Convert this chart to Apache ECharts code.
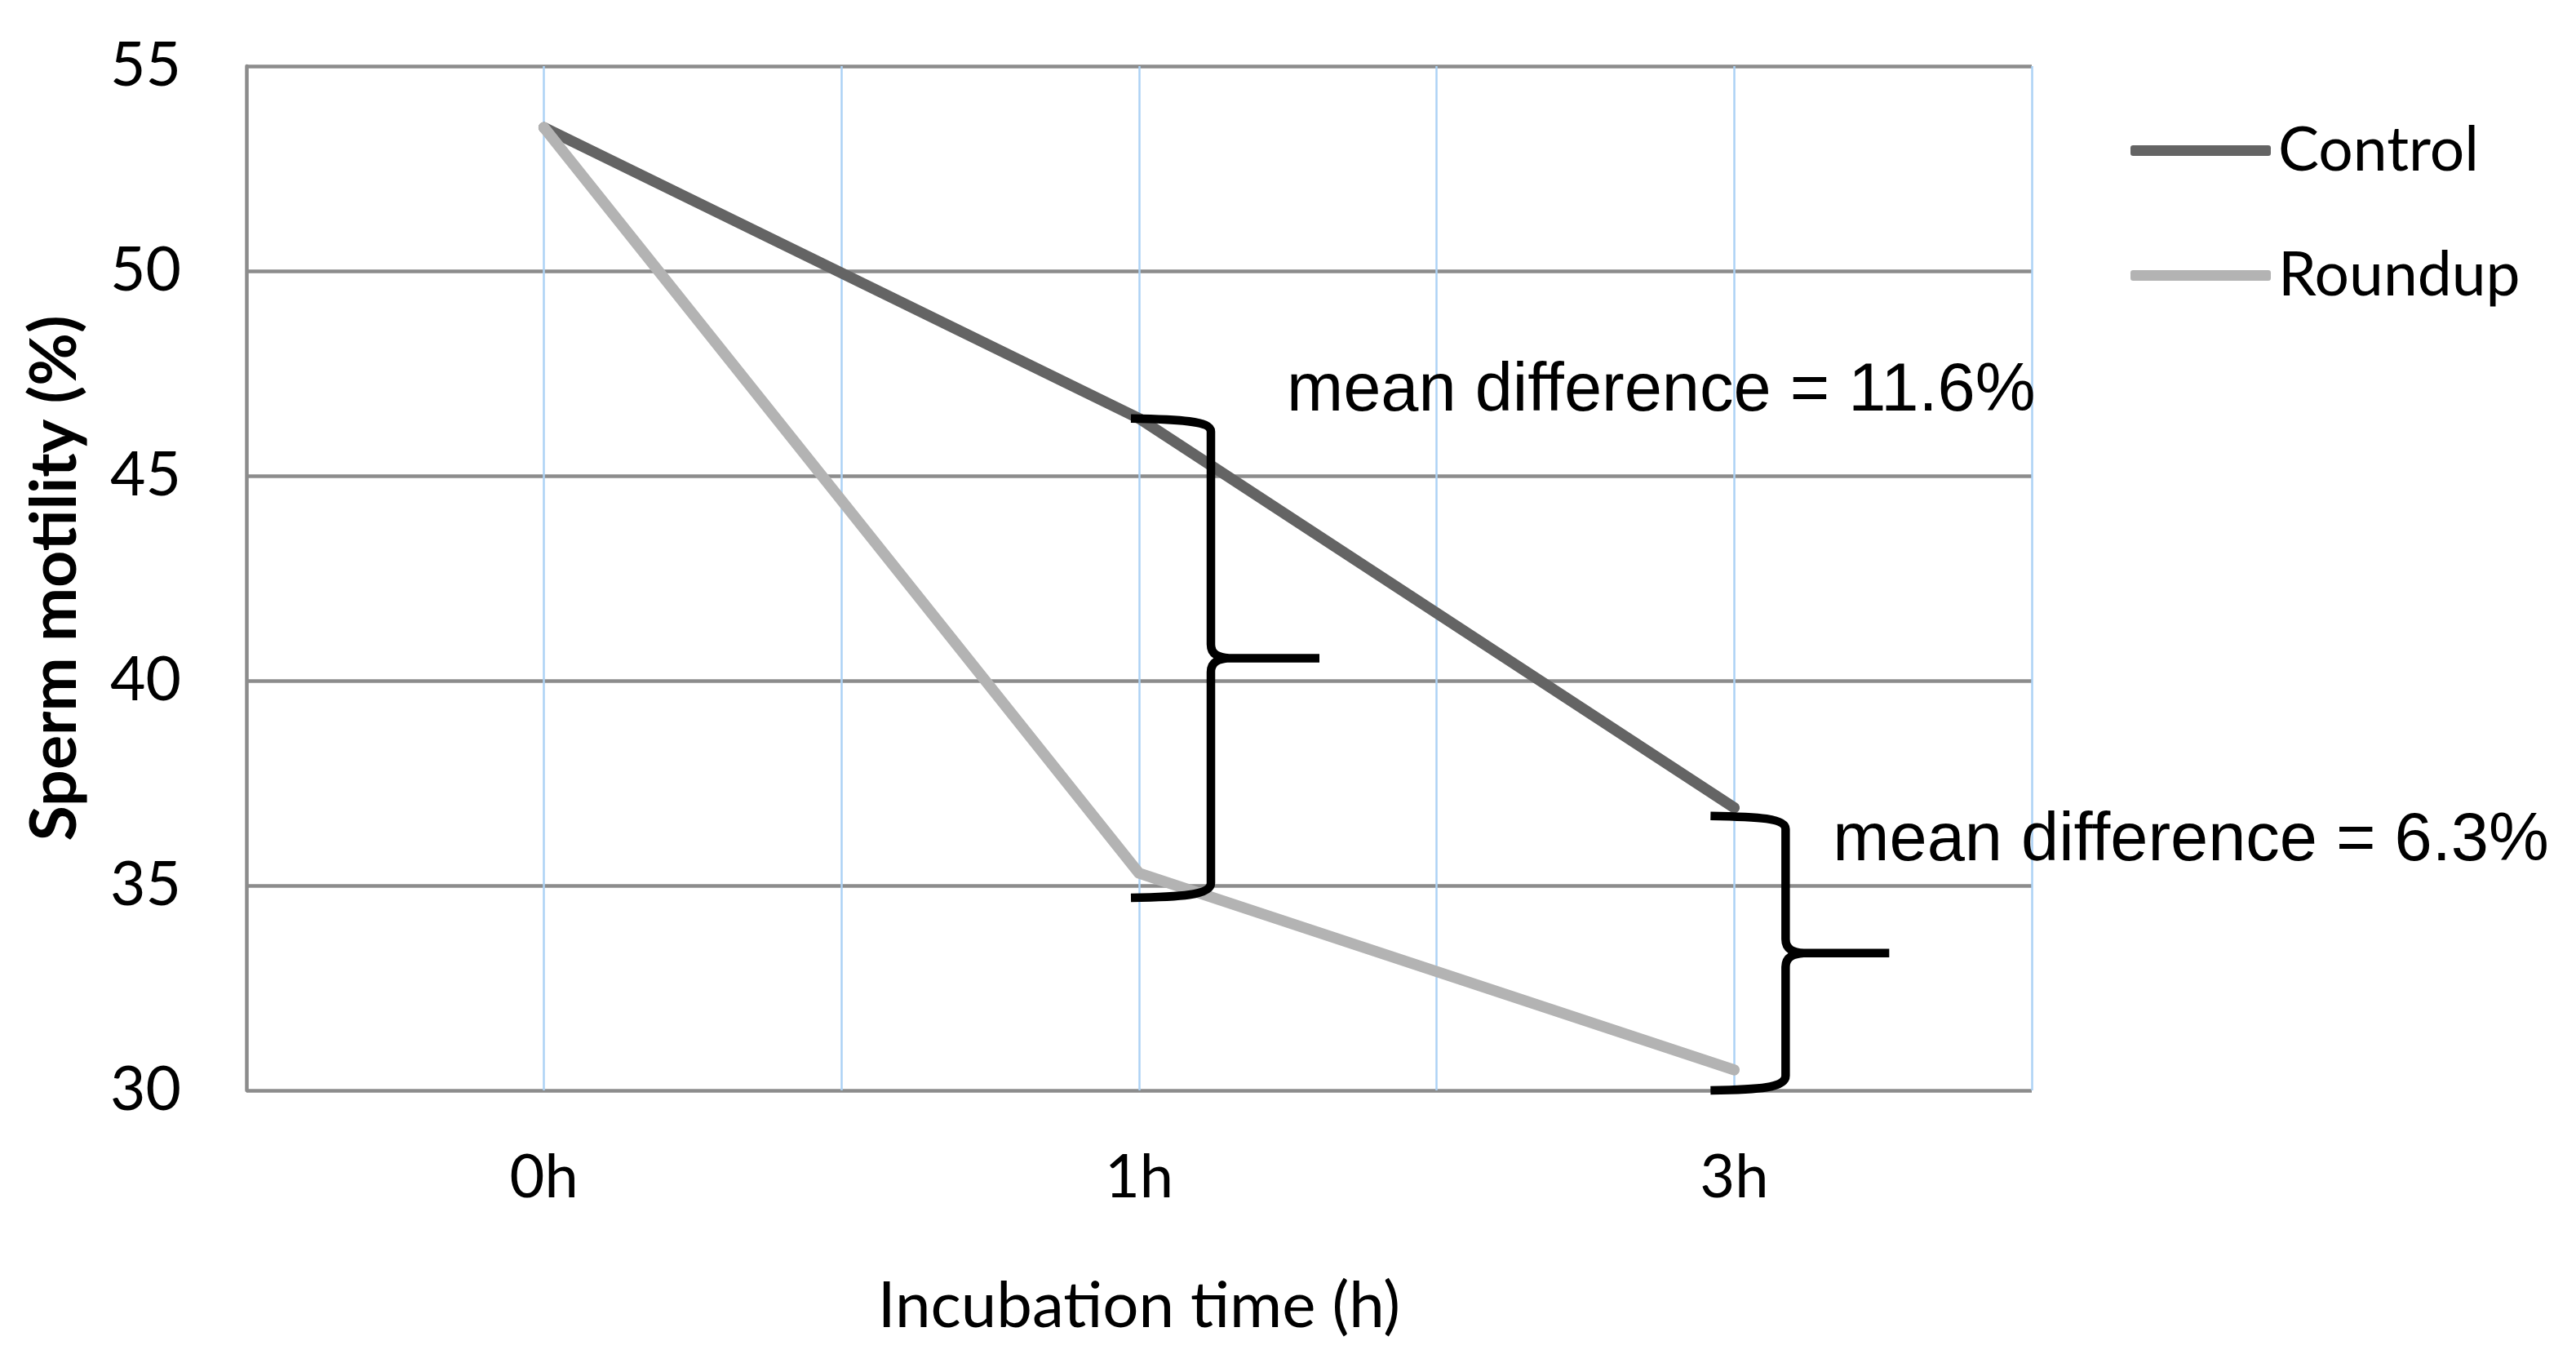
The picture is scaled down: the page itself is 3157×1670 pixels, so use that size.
<!DOCTYPE html>
<html>
<head>
<meta charset="utf-8">
<title>Sperm motility</title>
<script src="https://cdn.jsdelivr.net/npm/echarts@6.0.0/dist/echarts.min.js"></script>
<style>
  html, body { margin: 0; padding: 0; background: #fff; }
  #chart { width: 3157px; height: 1670px; }
</style>
</head>
<body>
<div id="chart"></div>
<script>
const categories = ['0h', '1h', '3h']
const control = [53.5, 46.4, 36.9]
const roundup = [53.5, 35.3, 30.5]
const yTicks = { min: 30, max: 55, step: 5 }
// brace annotations: category index, top value, bottom value
const braceSpans = [
  [1, 46.4, 34.7],
  [2, 36.7, 30.0],
]
const braceLabels = ['mean difference = 11.6%', 'mean difference = 6.3%']

// pixel layout of each brace relative to its category line
const braceLayout = [
  { end: -10, stem: 88, tip: 221, tx: 181, ty: -33 },
  { end: -29, stem: 63, tip: 190, tx: 121, ty: 31 },
]

const toPoints = (values) => values.map((v, i) => [i, v])

const bracePath = (x, yT, yB, o) => {
  const x0 = x + o.end
  const xs = x + o.stem
  const xt = x + o.tip
  const yM = (yT + yB) / 2
  return [
    `M${x0},${yT} C${x0 + 60},${yT + 1} ${xs},${yT + 3} ${xs},${yT + 16}`,
    `L${xs},${yM - 17} C${xs},${yM - 4} ${xs + 10},${yM - 1} ${xs + 22},${yM} L${xt},${yM}`,
    `M${xs + 22},${yM} C${xs + 10},${yM + 1} ${xs},${yM + 4} ${xs},${yM + 17}`,
    `L${xs},${yB - 18} C${xs},${yB - 3} ${x0 + 60},${yB - 1} ${x0},${yB}`,
  ].join(' ')
}

const chart = echarts.init(document.getElementById('chart'))

const option = {
  animation: false,
  backgroundColor: '#fff',
  grid: { left: 302, right: 667, top: 81, bottom: 334, containLabel: false },
  legend: {
    orient: 'vertical',
    left: 2606,
    top: 142,
    itemWidth: 172,
    itemHeight: 13,
    itemGap: 78,
    icon: 'roundRect',
    data: ['Control', 'Roundup'],
    textStyle: { fontFamily: 'Lato', fontSize: 75, color: '#000', lineHeight: 75, padding: [0, 0, 0, 4] },
  },
  xAxis: {
    type: 'value',
    min: -0.5,
    max: categories.length - 0.5,
    interval: 0.5,
    name: 'Incubation time (h)',
    nameLocation: 'middle',
    nameGap: 226,
    nameTextStyle: { fontFamily: 'Lato', fontSize: 78, color: '#000' },
    axisLine: { show: false },
    axisTick: { show: false },
    axisLabel: {
      margin: 70,
      fontFamily: 'Lato',
      fontSize: 74,
      color: '#000',
      showMinLabel: true,
      showMaxLabel: true,
      formatter: (v) => {
        const i = Math.round(v)
        return Math.abs(v - i) < 1e-6 && categories[i] ? categories[i] : ''
      },
    },
    splitLine: { show: true, lineStyle: { color: '#acd2f5', width: 2.5 } },
  },
  yAxis: {
    type: 'value',
    min: yTicks.min,
    max: yTicks.max,
    interval: yTicks.step,
    name: 'Sperm motility (%)',
    nameLocation: 'middle',
    nameGap: 195,
    nameTextStyle: { fontFamily: 'Lato', fontSize: 79, fontWeight: 'bold', color: '#000' },
    axisLine: { show: true, onZero: false, lineStyle: { color: '#8c8c8c', width: 4.5 } },
    axisTick: { show: false },
    axisLabel: { margin: 80, fontFamily: 'Lato', fontSize: 75, color: '#000' },
    splitLine: { show: true, lineStyle: { color: '#8c8c8c', width: 4.5 } },
  },
  series: [
    {
      name: 'Control',
      type: 'line',
      data: toPoints(control),
      symbol: 'none',
      itemStyle: { color: '#646464' },
      lineStyle: { color: '#646464', width: 13.5, cap: 'round', join: 'round' },
      z: 3,
    },
    {
      name: 'Roundup',
      type: 'line',
      data: toPoints(roundup),
      symbol: 'none',
      itemStyle: { color: '#b3b3b3' },
      lineStyle: { color: '#b3b3b3', width: 13.5, cap: 'round', join: 'round' },
      z: 4,
    },
    {
      name: 'braces',
      type: 'custom',
      silent: true,
      z: 5,
      encode: { x: 0, y: [1, 2] },
      data: braceSpans,
      renderItem: (params, api) => {
        const o = braceLayout[params.dataIndex]
        const pTop = api.coord([api.value(0), api.value(1)])
        const pBot = api.coord([api.value(0), api.value(2)])
        return {
          type: 'group',
          children: [
            {
              type: 'path',
              shape: { pathData: bracePath(pTop[0], pTop[1], pBot[1], o) },
              style: { stroke: '#000', lineWidth: 10.5, fill: null, lineJoin: 'round' },
            },
            {
              type: 'text',
              style: {
                text: braceLabels[params.dataIndex],
                x: pTop[0] + o.tx,
                y: pTop[1] + o.ty,
                fill: '#000',
                font: '83px "Liberation Sans", Arial, sans-serif',
                align: 'left',
                verticalAlign: 'middle',
              },
            },
          ],
        }
      },
    },
  ],
}

chart.setOption(option)
</script>
</body>
</html>
